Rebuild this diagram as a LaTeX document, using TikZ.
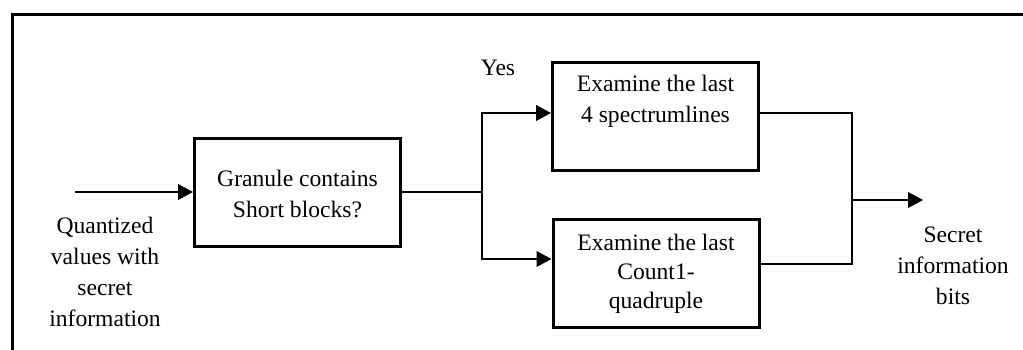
\documentclass[tikz,border=0pt]{standalone}
\usepackage{fontspec}
\setmainfont{Liberation Serif}
\usetikzlibrary{arrows.meta}
\begin{document}
\begin{tikzpicture}[x=0.5pt,y=-0.5pt,
  box/.style={draw,line width=1.5pt,minimum width=103pt,minimum height=54pt,inner sep=0pt},
  txt/.style={align=center,inner sep=0pt,font=\fontsize{11.8}{15.5}\selectfont},
  conn/.style={line width=1pt},
  arr/.style={line width=1pt,-{Triangle[length=7.5pt,width=7.8pt]}},
  frame/.style={line width=1.5pt}]
\useasboundingbox (0,0) rectangle (1023,349);
\draw[frame] (12,352) -- (12,14) -- (1026,14);
% boxes
\node[box] (b1) at (297.5,192) {};
\node[box] (b2) at (655.5,116.5) {};
\node[box] (b3) at (656,273) {};
\node[txt] (t1) at (297.5,194) {Granule contains\\Short blocks?};
\node[txt] (t2) at (655.5,101) {Examine the last\\4 spectrumlines};
\node[txt,font=\fontsize{11.8}{14.5}\selectfont] (t3) at (656,274) {Examine the last\\Count1-\\quadruple};
\node[txt] (lin) at (105,272) {Quantized\\values with\\secret\\information};
\node[txt] (lout) at (953,266) {Secret\\information\\bits};
\node[txt] (yes) at (498,68) {Yes};
% coordinates
\coordinate (in) at (75,192);
\coordinate (split) at (482,192);
\coordinate (ytop) at (0,113);
\coordinate (ybot) at (0,259);
\coordinate (ymid) at (0,264);
\coordinate (join) at (852,200);
\coordinate (out) at (923,200);
\coordinate (jtop) at (852,113);
\coordinate (jbot) at (852,264);
% connectors
\draw[arr] (in) -- (b1.west);
\draw[conn] (b1.east) -- (split);
\draw[arr] (split) |- (b2.west |- ytop);
\draw[arr] (split) |- (b3.west |- ybot);
\draw[conn] (b2.east |- ytop) -- (jtop) -- (jbot) -- (b3.east |- ymid);
\draw[arr] (join) -- (out);
\end{tikzpicture}
\end{document}
